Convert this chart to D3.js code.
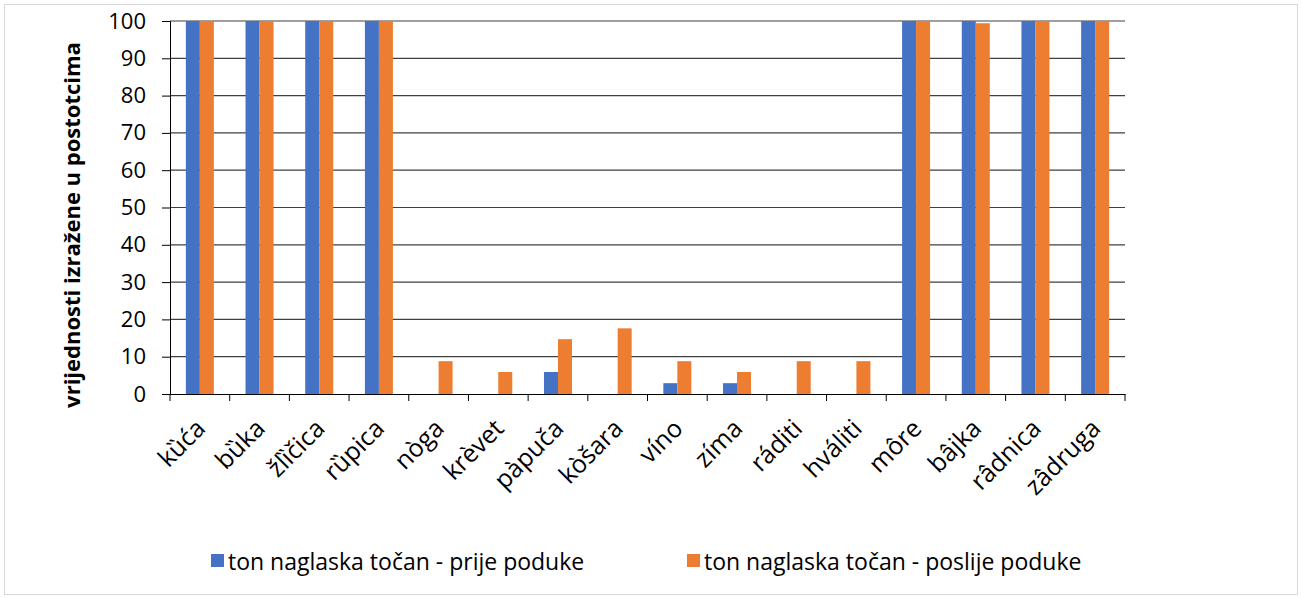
<!DOCTYPE html>
<head>
<meta charset="utf-8">
<title>Ton naglaska</title>
<script src="https://d3js.org/d3.v7.min.js"></script>
<style>
  body { margin: 0; background: #fff; }
  text { font-family: "Open Sans", "Noto Sans", sans-serif; fill: #000; }
</style>
</head>
<body>
<div id="chart"></div>
<script>
// data (percent)
var words = ["kȕća", "bȕka", "žlȉčica", "rȕpica", "nòga", "krèvet", "pàpuča", "kòšara",
             "víno", "zíma", "ráditi", "hváliti", "môre", "bâjka", "râdnica", "zâdruga"];
var before = [100, 100, 100, 100, 0, 0, 5.9, 0, 2.9, 2.9, 0, 0, 100, 100, 100, 100];
var after  = [100, 100, 100, 100, 8.8, 5.9, 14.7, 17.6, 8.8, 5.9, 8.8, 8.8, 100, 99.4, 100, 100];
var seriesNames = ["ton naglaska točan - prije poduke", "ton naglaska točan - poslije poduke"];
var colors = ["#4472c4", "#ed7d31"];
var yTicks = [0, 10, 20, 30, 40, 50, 60, 70, 80, 90, 100];

var W = 1302, H = 598;
var margin = {top: 21, right: 177, bottom: 204, left: 170},
    width = W - margin.left - margin.right,
    height = H - margin.top - margin.bottom;

var root = d3.select("#chart").append("svg")
    .attr("width", W).attr("height", H);

root.append("rect")
    .attr("x", 4.5).attr("y", 4.5)
    .attr("width", W - 9).attr("height", H - 8)
    .attr("fill", "#fff").attr("stroke", "#d9d9d9");

var svg = root.append("g")
    .attr("transform", "translate(" + margin.left + "," + margin.top + ")");

var x = d3.scaleBand().domain(words).range([0, width]);
var x1 = d3.scaleBand().domain([0, 1]).range([0, 28]);
var y = d3.scaleLinear().domain([0, 100]).range([height, 0]);

// grid
svg.append("g")
  .selectAll("line")
  .data(yTicks.slice(1))
  .enter().append("line")
    .attr("x1", 0).attr("x2", width)
    .attr("y1", function(d) { return y(d); })
    .attr("y2", function(d) { return y(d); })
    .attr("stroke", "#404040").attr("stroke-width", 1.2);

// bars
var data = words.map(function(w, i) { return {word: w, vals: [before[i], after[i]]}; });
var groups = svg.selectAll(".grp")
  .data(data)
  .enter().append("g")
    .attr("transform", function(d) { return "translate(" + (x(d.word) + x.bandwidth() / 2 - 14) + ",0)"; });

groups.selectAll("rect")
  .data(function(d) { return d.vals; })
  .enter().append("rect")
    .attr("x", function(d, i) { return x1(i); })
    .attr("width", x1.bandwidth())
    .attr("y", function(d) { return y(d); })
    .attr("height", function(d) { return height - y(d); })
    .attr("fill", function(d, i) { return colors[i]; });

// y axis
var yAxis = svg.append("g")
  .call(d3.axisLeft(y).tickValues(yTicks).tickSize(8).tickPadding(16));
yAxis.select(".domain").attr("stroke", "#000");
yAxis.selectAll(".tick line").attr("stroke", "#000");
yAxis.selectAll("text").style("font-size", "22px");

// x axis
var xAxis = svg.append("g")
  .attr("transform", "translate(0," + height + ")")
  .call(d3.axisBottom(x).tickSize(0).tickFormat(""));
xAxis.select(".domain").attr("stroke", "#000");
xAxis.selectAll(".tick").remove();

xAxis.selectAll(".sep")
  .data(d3.range(words.length + 1))
  .enter().append("line")
    .attr("x1", function(i) { return i * x.step(); })
    .attr("x2", function(i) { return i * x.step(); })
    .attr("y1", 0).attr("y2", 7)
    .attr("stroke", "#000");

xAxis.selectAll(".lbl")
  .data(words)
  .enter().append("text")
    .attr("transform", function(d) {
      return "translate(" + (x(d) + x.bandwidth() / 2 + 7) + ",36) rotate(-45)";
    })
    .attr("text-anchor", "end")
    .style("font-size", "25px")
    .text(function(d) { return d; });

// y title
svg.append("text")
  .attr("transform", "rotate(-90)")
  .attr("x", -204)
  .attr("y", -90)
  .attr("text-anchor", "middle")
  .style("font-size", "22px")
  .style("font-weight", "bold")
  .text("vrijednosti izražene u postotcima");

// legend
var legX = [211, 687];
var leg = root.selectAll(".leg")
  .data(seriesNames)
  .enter().append("g")
    .attr("transform", function(d, i) { return "translate(" + legX[i] + ",554)"; });
leg.append("rect")
  .attr("width", 13).attr("height", 13)
  .attr("fill", function(d, i) { return colors[i]; });
leg.append("text")
  .attr("x", 17).attr("y", 16)
  .style("font-size", "23px")
  .text(function(d) { return d; });
</script>
</body>
